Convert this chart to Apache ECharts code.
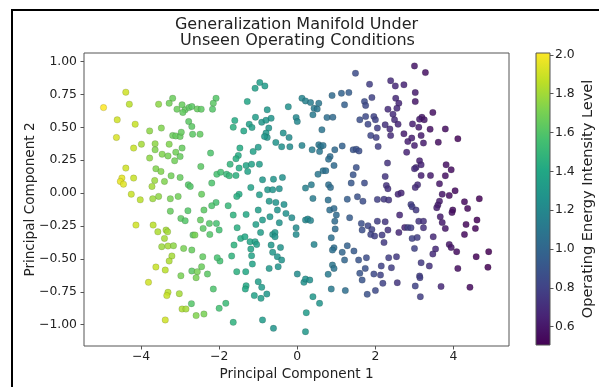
<!DOCTYPE html>
<html>
<head>
<meta charset="utf-8">
<script src="https://cdn.jsdelivr.net/npm/echarts@6/dist/echarts.min.js"></script>
<style>
  html, body { margin: 0; padding: 0; background: #fff; }
  #chart { width: 599px; height: 387px; }
</style>
</head>
<body>
<div id="chart"></div>
<script>
// Principal component 1 of each operating sample
const pc1 = [
  -4.39,-4.96,-4.30,-4.61,-4.15,-4.63,-3.19,-3.55,-3.28,-3.08,
  -2.95,-2.87,-2.77,-2.70,-2.93,-2.78,-2.70,-3.78,-3.48,-3.19,
  -3.11,-3.00,-2.97,-2.68,-4.19,-3.99,-3.64,-3.28,-3.64,-2.95,
  -3.46,-3.31,-3.11,-3.00,-3.14,-3.78,-3.62,-3.49,-4.39,-4.49,
  -4.53,-4.45,-4.19,-3.23,-3.00,-3.65,-3.40,-3.72,-2.79,-2.74,
  -4.25,-3.55,-3.25,-3.05,-4.02,-3.70,
  -3.25,-2.80,-2.98,-2.87,-4.13,-3.69,-3.57,-3.36,-3.32,-3.40,
  -3.47,-3.31,-3.17,-2.91,-2.70,-2.67,-3.21,-3.28,-3.62,-3.38,
  -2.98,-2.70,-3.81,-3.31,-3.34,-3.02,-2.71,-2.95,-2.85,-3.38,
  -0.96,-1.08,-0.83,-2.08,-2.15,-2.17,-2.56,-2.46,-1.28,-0.77,
  -0.23,-1.07,-1.60,-1.64,-1.37,-1.23,-1.16,-0.91,-0.80,-0.67,
  -0.73,-0.80,-0.77,-0.84,-0.03,0.00,-0.36,-0.21,-0.55,-0.40,
  -0.19,-1.00,-1.13,-1.47,-1.51,-1.57,-1.72,-1.49,-1.31,-1.17,
  -0.97,-1.27,-2.49,-2.22,-2.47,-2.06,-1.96,-1.81,-1.74,-1.57,
  -2.19,-0.89,-0.61,-0.38,-1.19,-0.97,-0.76,-0.63,-0.46,-1.49,
  -1.55,-2.45,
  -2.08,-2.19,-2.39,-1.77,-2.48,-2.41,-2.25,-2.07,-2.00,-2.62,
  -2.24,-1.64,-1.54,-1.31,-1.00,-0.89,-1.06,-0.94,-0.70,-0.72,
  -0.55,-0.34,-0.51,-0.29,-0.14,-0.03,-0.03,-0.46,-0.63,-0.57,
  -0.57,-0.67,-0.43,-0.63,-0.51,-0.40,-0.72,-0.49,0.00,-1.45,
  -1.34,-1.21,-1.08,-1.04,-1.19,-1.17,-1.15,-1.62,-1.68,-1.98,
  -2.05,-2.42,-2.45,-2.56,-2.59,-2.30,-1.55,-1.32,-2.15,-1.31,
  -1.33,-1.00,-0.91,-0.78,-1.10,-0.93,-1.83,-2.00,-2.59,-2.39,
  -1.64,-0.89,-0.61,
  1.49,1.85,2.39,2.51,2.73,0.89,1.13,1.32,1.21,1.72,
  1.91,1.75,2.52,2.60,2.32,2.55,0.12,0.21,0.34,0.43,
  0.51,0.55,0.40,0.76,0.91,1.60,1.75,1.81,1.96,2.00,
  2.05,1.88,2.02,2.45,2.49,2.25,2.37,2.58,2.73,2.83,
  2.39,0.63,0.12,0.38,0.55,0.60,0.66,0.57,0.96,1.15,
  0.84,0.80,0.94,1.43,1.51,1.58,2.07,2.31,0.53,0.66,
  0.73,1.51,1.43,1.38,1.72,2.25,2.28,2.32,2.58,2.66,
  0.21,0.36,0.80,0.85,
  0.40,0.79,1.28,1.54,1.68,2.05,2.22,2.34,0.21,0.27,
  0.34,0.83,0.94,1.00,0.96,1.34,0.97,0.43,0.87,1.28,
  0.94,0.90,1.15,1.45,1.57,1.77,1.21,1.64,1.66,1.81,
  1.91,1.88,1.98,2.05,2.17,2.25,2.22,2.32,2.60,2.62,
  2.75,2.34,2.54,2.41,2.15,1.96,2.13,2.19,2.56,1.74,
  1.60,1.66,1.79,2.00,1.23,0.87,0.90,0.94,0.79,0.17,
  0.21,0.32,0.40,0.57,0.23,0.21,
  3.00,3.28,3.02,3.02,3.47,3.19,3.13,3.25,2.95,3.11,
  3.40,3.79,3.17,2.93,4.11,3.00,3.23,3.61,2.80,3.13,
  3.17,3.04,3.00,3.81,3.94,3.17,3.41,3.79,3.64,3.08,
  3.02,4.04,3.71,3.89,4.66,
  4.28,4.36,3.64,3.60,3.57,2.91,2.94,3.04,3.98,3.96,
  3.66,3.71,3.79,3.11,3.23,3.23,2.83,2.91,4.32,4.60,
  4.56,4.28,3.48,2.94,3.07,3.00,3.54,3.47,3.89,3.94,
  4.08,4.58,4.90,3.17,3.38,4.11,4.88,3.13,3.14,3.02,
  3.68,4.42,3.15
];

// Principal component 2 of each operating sample
const pc2 = [
  0.767,0.650,0.676,0.557,0.524,0.423,0.721,0.676,0.683,0.638,
  0.671,0.633,0.650,0.658,0.613,0.544,0.506,0.473,0.494,0.438,
  0.435,0.430,0.463,0.448,0.342,0.372,0.375,0.372,0.329,0.342,
  0.296,0.283,0.311,0.278,0.246,0.266,0.185,0.165,0.190,0.114,
  0.089,0.068,0.114,0.132,0.119,0.096,0.089,0.051,0.063,0.051,
  -0.008,-0.025,-0.043,-0.025,-0.051,-0.043,
  -0.137,-0.134,-0.192,-0.210,-0.243,-0.243,-0.294,-0.281,-0.294,-0.344,
  -0.407,-0.402,-0.400,-0.420,-0.433,-0.319,-0.478,-0.516,-0.562,-0.585,
  -0.628,-0.592,-0.678,-0.754,-0.779,-0.764,-0.840,-0.881,-0.881,-0.964,
  0.840,0.797,0.815,0.721,0.683,0.638,0.640,0.638,0.696,0.633,
  0.656,0.577,0.552,0.501,0.473,0.524,0.499,0.539,0.554,0.569,
  0.494,0.456,0.423,0.430,0.575,0.544,0.456,0.423,0.385,0.352,
  0.352,0.349,0.316,0.342,0.286,0.261,0.220,0.190,0.210,0.220,
  0.220,0.165,0.448,0.304,0.202,0.144,0.159,0.144,0.132,0.134,
  0.076,0.101,0.106,0.119,0.043,-0.013,0.025,0.025,0.033,-0.008,
  -0.025,-0.008,
  -0.071,-0.096,-0.129,-0.096,-0.205,-0.268,-0.230,-0.230,-0.281,-0.319,
  -0.314,-0.167,-0.263,-0.162,-0.129,-0.205,-0.238,-0.299,-0.180,-0.061,
  -0.071,-0.086,-0.129,-0.154,-0.187,-0.263,-0.314,-0.225,-0.314,-0.299,
  -0.332,-0.395,-0.413,-0.450,-0.483,-0.509,-0.572,-0.559,-0.615,-0.344,
  -0.332,-0.369,-0.369,-0.390,-0.425,-0.476,-0.539,-0.395,-0.478,-0.516,
  -0.491,-0.483,-0.559,-0.597,-0.643,-0.615,-0.597,-0.597,-0.729,-0.704,
  -0.729,-0.673,-0.716,-0.767,-0.779,-0.800,-0.838,-0.876,-0.931,-0.919,
  -0.982,-0.964,-1.028,
  0.911,0.828,0.855,0.815,0.823,0.742,0.759,0.764,0.671,0.696,
  0.726,0.666,0.721,0.683,0.638,0.645,0.721,0.701,0.688,0.645,
  0.640,0.683,0.595,0.575,0.577,0.557,0.582,0.524,0.582,0.557,
  0.494,0.438,0.423,0.600,0.557,0.519,0.488,0.524,0.451,0.392,
  0.438,0.481,0.362,0.329,0.367,0.354,0.362,0.316,0.329,0.359,
  0.278,0.258,0.210,0.329,0.334,0.321,0.354,0.228,0.144,0.170,
  0.170,0.195,0.139,0.076,0.076,0.127,0.058,0.033,-0.008,0.000,
  0.038,0.063,0.063,0.043,
  -0.040,-0.053,-0.046,-0.028,-0.061,-0.048,-0.046,-0.053,-0.205,-0.197,
  -0.208,-0.129,-0.116,-0.167,-0.213,-0.187,-0.273,-0.390,-0.339,-0.400,
  -0.415,-0.433,-0.450,-0.440,-0.509,-0.491,-0.509,-0.230,-0.281,-0.248,
  -0.276,-0.314,-0.326,-0.213,-0.319,-0.218,-0.375,-0.281,-0.299,-0.167,
  -0.261,-0.491,-0.483,-0.567,-0.554,-0.615,-0.623,-0.686,-0.681,-0.572,
  -0.610,-0.661,-0.769,-0.741,-0.741,-0.729,-0.547,-0.572,-0.617,-0.678,
  -0.653,-0.661,-0.787,-0.838,-0.909,-1.053,
  0.967,0.916,0.764,0.696,0.613,0.577,0.562,0.557,0.526,0.501,
  0.486,0.488,0.438,0.418,0.413,0.362,0.380,0.387,0.311,0.246,
  0.215,0.195,0.185,0.215,0.177,0.134,0.134,0.132,0.071,0.063,
  0.043,0.018,-0.008,-0.018,-0.043,
  -0.066,-0.116,-0.061,-0.091,-0.111,-0.086,-0.104,-0.129,-0.129,-0.147,
  -0.180,-0.223,-0.268,-0.213,-0.213,-0.263,-0.261,-0.263,-0.238,-0.205,
  -0.268,-0.314,-0.332,-0.344,-0.337,-0.420,-0.425,-0.463,-0.390,-0.413,
  -0.445,-0.483,-0.445,-0.529,-0.554,-0.572,-0.564,-0.630,-0.643,-0.706,
  -0.709,-0.716,-0.787
];

// Operating energy intensity level of each sample (colour scale)
const level = [
  1.90,2.01,1.85,1.90,1.88,1.92,1.66,1.75,1.68,1.66,
  1.65,1.64,1.63,1.62,1.64,1.62,1.62,1.75,1.72,1.66,
  1.65,1.65,1.65,1.62,1.88,1.80,1.75,1.72,1.72,1.65,
  1.72,1.70,1.68,1.65,1.68,1.75,1.72,1.72,1.90,1.95,
  1.96,1.94,1.88,1.68,1.65,1.78,1.72,1.80,1.60,1.60,
  1.88,1.75,1.70,1.68,1.85,1.78,
  1.65,1.60,1.62,1.60,1.90,1.85,1.82,1.80,1.80,1.80,
  1.78,1.80,1.75,1.70,1.65,1.62,1.80,1.82,1.88,1.85,
  1.70,1.62,1.90,1.85,1.88,1.80,1.60,1.82,1.80,1.90,
  1.33,1.35,1.32,1.60,1.62,1.60,1.65,1.63,1.38,1.30,
  1.25,1.33,1.42,1.45,1.38,1.35,1.35,1.30,1.30,1.28,
  1.28,1.30,1.28,1.30,1.20,1.20,1.25,1.22,1.27,1.25,
  1.22,1.32,1.36,1.42,1.42,1.44,1.48,1.42,1.38,1.36,
  1.33,1.37,1.64,1.58,1.62,1.56,1.55,1.50,1.50,1.45,
  1.58,1.30,1.28,1.25,1.36,1.33,1.30,1.28,1.26,1.42,
  1.44,1.65,
  1.56,1.58,1.62,1.50,1.64,1.62,1.60,1.56,1.55,1.70,
  1.60,1.46,1.44,1.40,1.34,1.32,1.35,1.33,1.30,1.30,
  1.28,1.25,1.27,1.25,1.23,1.22,1.22,1.27,1.30,1.30,
  1.28,1.30,1.27,1.30,1.28,1.27,1.30,1.27,1.22,1.42,
  1.40,1.38,1.36,1.35,1.37,1.37,1.37,1.46,1.47,1.55,
  1.56,1.64,1.66,1.70,1.70,1.62,1.45,1.40,1.58,1.40,
  1.40,1.34,1.32,1.30,1.36,1.33,1.52,1.55,1.72,1.70,
  1.46,1.32,1.28,
  0.85,0.78,0.70,0.68,0.66,1.02,0.98,0.95,0.96,0.85,
  0.80,0.84,0.68,0.67,0.70,0.68,1.18,1.16,1.14,1.12,
  1.10,1.10,1.12,1.05,1.02,0.87,0.84,0.83,0.80,0.80,
  0.78,0.82,0.79,0.70,0.69,0.72,0.70,0.67,0.63,0.64,
  0.70,1.08,1.18,1.13,1.10,1.10,1.08,1.10,1.02,0.97,
  1.04,1.05,1.02,0.90,0.88,0.87,0.78,0.73,1.10,1.08,
  1.06,0.88,0.90,0.92,0.85,0.74,0.73,0.72,0.68,0.67,
  1.16,1.13,1.05,1.04,
  1.13,1.06,0.95,0.88,0.86,0.79,0.76,0.74,1.20,1.20,
  1.18,1.05,1.03,1.02,1.03,0.94,1.03,1.18,1.06,0.97,
  1.05,1.06,1.00,0.93,0.90,0.86,1.00,0.87,0.87,0.83,
  0.80,0.81,0.79,0.78,0.77,0.74,0.76,0.73,0.68,0.67,
  0.65,0.78,0.76,0.78,0.80,0.84,0.80,0.80,0.74,0.88,
  0.90,0.90,0.88,0.84,1.05,1.12,1.10,1.08,1.12,1.26,
  1.25,1.24,1.30,1.28,1.32,1.30,
  0.60,0.58,0.62,0.60,0.58,0.60,0.62,0.60,0.64,0.62,
  0.58,0.56,0.62,0.64,0.53,0.64,0.62,0.57,0.66,0.64,
  0.66,0.68,0.70,0.58,0.56,0.64,0.62,0.58,0.60,0.70,
  0.70,0.55,0.60,0.56,0.52,
  0.55,0.54,0.62,0.63,0.63,0.78,0.78,0.76,0.56,0.56,
  0.62,0.62,0.60,0.74,0.72,0.72,0.80,0.78,0.54,0.52,
  0.53,0.55,0.68,0.80,0.78,0.80,0.68,0.70,0.60,0.60,
  0.56,0.52,0.505,0.76,0.72,0.56,0.51,0.78,0.78,0.80,
  0.68,0.55,0.78
];

// Tick positions
const pc1Ticks = [-4, -2, 0, 2, 4];
const pc2Ticks = [-1, -0.75, -0.5, -0.25, 0, 0.25, 0.5, 0.75, 1];
const levelTicks = [0.6, 0.8, 1.0, 1.2, 1.4, 1.6, 1.8, 2.0];

// Viridis colour ramp, low to high
const viridis = ['#440154','#482475','#414487','#355f8d','#2a788e',
                 '#21918c','#22a884','#44bf70','#7ad151','#bddf26','#fde725'];

const FONT = 'DejaVu Sans';
const minus = s => s.replace('-', '\u2212');

const points = pc1.map((x, i) => [x, pc2[i], level[i]]);
const levelMin = Math.min(...level);
const levelMax = Math.max(...level);

const chart = echarts.init(document.getElementById('chart'), null, { renderer: 'canvas' });

const plot = { left: 84, top: 53, width: 425, height: 293 };
const bar = { left: 536, top: 53, width: 14, height: 292 };

const tickStyle = { color: '#555', width: 1 };

chart.setOption({
  animation: false,
  backgroundColor: '#fff',
  textStyle: { fontFamily: FONT },
  grid: [
    Object.assign({ show: true, borderColor: '#555', borderWidth: 1, containLabel: false }, plot),
    Object.assign({ show: false, containLabel: false }, bar)
  ],
  xAxis: [{
    gridIndex: 0, type: 'value', min: -5.46, max: 5.42, position: 'bottom',
    axisLine: { show: false, onZero: false },
    splitLine: { show: false },
    axisTick: { show: true, customValues: pc1Ticks, length: 3.5, lineStyle: tickStyle },
    axisLabel: { customValues: pc1Ticks, formatter: v => minus(String(v)), fontSize: 12.4, color: '#222', margin: 5, fontFamily: FONT },
    name: 'Principal Component 1', nameLocation: 'middle', nameGap: 21,
    nameTextStyle: { fontSize: 13.6, color: '#222', fontFamily: FONT }
  }, {
    gridIndex: 1, type: 'value', min: 0, max: 1, show: false,
    axisLine: { onZero: false }
  }],
  yAxis: [{
    gridIndex: 0, type: 'value', min: -1.162, max: 1.065, position: 'left',
    axisLine: { show: false, onZero: false },
    splitLine: { show: false },
    axisTick: { show: true, customValues: pc2Ticks, length: 3.5, lineStyle: tickStyle },
    axisLabel: { customValues: pc2Ticks, formatter: v => minus(v.toFixed(2)), fontSize: 12.4, color: '#222', margin: 7, fontFamily: FONT }
  }, {
    gridIndex: 1, type: 'value', position: 'right', min: levelMin, max: levelMax,
    axisLine: { show: false, onZero: false },
    splitLine: { show: false },
    axisTick: { show: true, customValues: levelTicks, length: 3.5, lineStyle: tickStyle },
    axisLabel: { customValues: levelTicks, formatter: v => v.toFixed(1), fontSize: 12.4, color: '#222', margin: 5, fontFamily: FONT }
  }],
  visualMap: {
    show: false, type: 'continuous', seriesIndex: 0, dimension: 2,
    min: levelMin, max: levelMax, inRange: { color: viridis }
  },
  series: [{
    type: 'scatter', xAxisIndex: 0, yAxisIndex: 0,
    data: points, symbolSize: 6.5,
    itemStyle: { opacity: 0.85, borderColor: 'rgba(0,0,0,0.3)', borderWidth: 0.5 }
  }],
  graphic: [
    {
      type: 'rect', z: 1, silent: true,
      shape: { x: bar.left, y: bar.top, width: bar.width, height: bar.height },
      style: {
        fill: new echarts.graphic.LinearGradient(0, 1, 0, 0,
          viridis.map((c, i) => ({ offset: i / (viridis.length - 1), color: c }))),
        stroke: '#555', lineWidth: 1
      }
    },
    {
      type: 'text', silent: true,
      style: { text: 'Generalization Manifold Under', x: 296.5, y: 24.5, align: 'center', verticalAlign: 'middle',
               font: '16px "DejaVu Sans"', fill: '#222' }
    },
    {
      type: 'text', silent: true,
      style: { text: 'Unseen Operating Conditions', x: 297.5, y: 40.5, align: 'center', verticalAlign: 'middle',
               font: '16px "DejaVu Sans"', fill: '#222' }
    },
    {
      type: 'text', silent: true, x: 30, y: 199.5, rotation: Math.PI / 2,
      style: { text: 'Principal Component 2', x: 0, y: 0, align: 'center', verticalAlign: 'middle',
               font: '13.6px "DejaVu Sans"', fill: '#222' }
    },
    {
      type: 'text', silent: true, x: 588, y: 199, rotation: Math.PI / 2,
      style: { text: 'Operating Energy Intensity Level', x: 0, y: 0, align: 'center', verticalAlign: 'middle',
               font: '14.5px "DejaVu Sans"', fill: '#222' }
    },
    {
      type: 'polyline', silent: true,
      shape: { points: [[12, 400], [12, 10], [610, 10]] },
      style: { stroke: '#000', lineWidth: 2, fill: null }
    }
  ]
});
</script>
</body>
</html>
